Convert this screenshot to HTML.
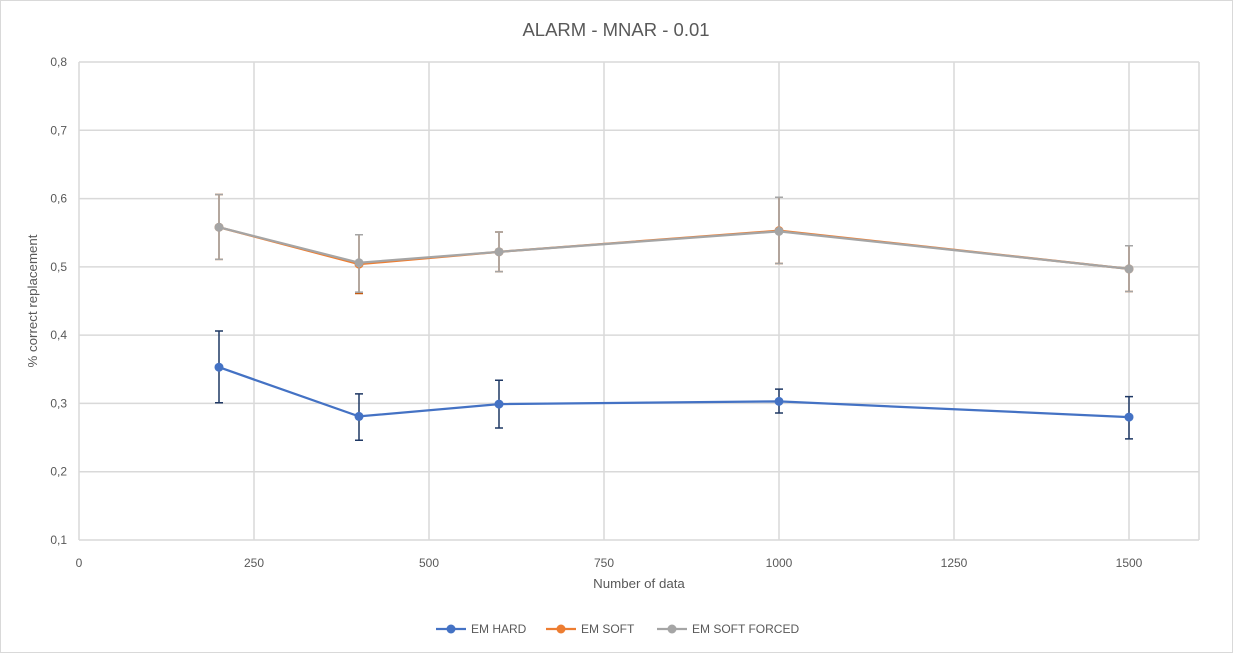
<!DOCTYPE html>
<html><head><meta charset="utf-8">
<style>
html,body{margin:0;padding:0;background:#fff;}
body{width:1233px;height:653px;overflow:hidden;font-family:"Liberation Sans",sans-serif;}
#frame{position:absolute;left:0;top:0;width:1231px;height:651px;border:1px solid #d9d9d9;}
</style></head>
<body>
<div id="frame"></div>
<svg id="chart" width="1233" height="653" style="position:absolute;left:0;top:0"></svg>
<script>
const xValues=[200,400,600,1000,1500];
const hardVals=[0.353,0.281,0.299,0.303,0.280];
const hardLo=[0.301,0.246,0.264,0.286,0.248];
const hardHi=[0.406,0.314,0.334,0.321,0.310];
const softVals=[0.558,0.504,0.522,0.553,0.497];
const softLo=[0.511,0.461,0.493,0.505,0.464];
const softHi=[0.606,0.547,0.551,0.602,0.531];
const forcedVals=[0.558,0.506,0.522,0.552,0.497];
const forcedLo=[0.511,0.463,0.493,0.505,0.464];
const forcedHi=[0.606,0.547,0.551,0.602,0.531];
const xTicks=[0,250,500,750,1000,1250,1500];
const yTicks=[0.1,0.2,0.3,0.4,0.5,0.6,0.7,0.8];
const yTickLabels=["0,1","0,2","0,3","0,4","0,5","0,6","0,7","0,8"];

const NS="http://www.w3.org/2000/svg";
const svg=document.getElementById('chart');
const X=v=>79+v*0.7;
const Y=v=>540-(v-0.1)/0.7*478;
function mk(tag,attrs,parent){const e=document.createElementNS(NS,tag);for(const k in attrs)e.setAttribute(k,attrs[k]);(parent||svg).appendChild(e);return e;}

// grid
xTicks.forEach((t,i)=>{
  const l=mk('line',{x1:X(t),x2:X(t),y1:Y(0.8),y2:Y(0.1),stroke:'#d9d9d9','stroke-width':1.5});
  
  
  const tx=mk('text',{x:X(t),y:567,'text-anchor':'middle','font-size':12,fill:'#595959'});
  tx.textContent=t;
  
  
});
mk('line',{x1:X(1600),x2:X(1600),y1:Y(0.8),y2:Y(0.1),stroke:'#d9d9d9','stroke-width':1.5});
yTicks.forEach((t,i)=>{
  const l=mk('line',{x1:X(0),x2:X(1600),y1:Y(t),y2:Y(t),stroke:'#d9d9d9','stroke-width':1.5});
  
  
  const tx=mk('text',{x:67,y:Y(t)+4,'text-anchor':'end','font-size':12,fill:'#595959'});
  tx.textContent=yTickLabels[i];
  
  
});

function series(vals,lo,hi,color,ecol,name){
  const g=mk('g',{});
  
  
  vals.forEach((v,i)=>{
    const x=X(xValues[i]);
    const e=mk('path',{d:`M${x},${Y(lo[i])}V${Y(hi[i])}M${x-4},${Y(lo[i])}h8M${x-4},${Y(hi[i])}h8`,stroke:ecol,'stroke-width':1.5,fill:'none'},g);
    
    
  });
  const p=mk('polyline',{points:vals.map((v,i)=>X(xValues[i])+','+Y(v)).join(' '),fill:'none',stroke:color,'stroke-width':2.25},g);
  
  
  vals.forEach((v,i)=>{
    const c=mk('circle',{cx:X(xValues[i]),cy:Y(v),r:4.5,fill:color},g);
    
    
  });
}
series(hardVals,hardLo,hardHi,'#4472c4','#1f3864','em-hard');
series(softVals,softLo,softHi,'#ed7d31','#c55a11','em-soft');
series(forcedVals,forcedLo,forcedHi,'#a5a5a5','#a5a5a5','em-soft-forced');

const title=mk('text',{x:616,y:36,'text-anchor':'middle','font-size':18.5,fill:'#595959'});
title.textContent='ALARM - MNAR - 0.01';


const xt=mk('text',{x:639,y:588,'text-anchor':'middle','font-size':13.3,fill:'#595959'});
xt.textContent='Number of data';


const yt=mk('text',{x:0,y:0,'text-anchor':'middle','font-size':13.3,fill:'#595959',transform:'translate(37,301) rotate(-90)'});
yt.textContent='% correct replacement';



const legend=[['EM HARD','#4472c4',436],['EM SOFT','#ed7d31',546],['EM SOFT FORCED','#a5a5a5',657]];
legend.forEach(l=>{
  const g=mk('g',{});
  
  
  mk('line',{x1:l[2],x2:l[2]+30,y1:629,y2:629,stroke:l[1],'stroke-width':2.25},g);
  mk('circle',{cx:l[2]+15,cy:629,r:4.5,fill:l[1]},g);
  const t=mk('text',{x:l[2]+35,y:633,'font-size':12,fill:'#595959'},g);
  t.textContent=l[0];
});
</script>
</body></html>
